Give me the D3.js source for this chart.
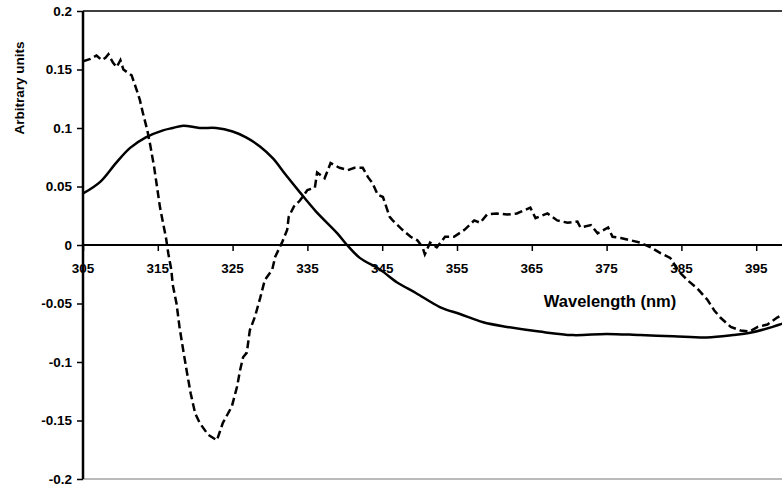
<!DOCTYPE html>
<html>

<head>
  <meta charset="UTF-8">
  <style>
    body { margin: 0; background: #fff; }
    svg { display: block; }
    text { font-family: "Liberation Sans", Arial, sans-serif; font-weight: bold; fill: #000; }
  </style>
</head>

<body>
  <svg></svg>
  <script src="https://d3js.org/d3.v7.min.js"></script>

  <script>

    let width = 782, height = 486;

    // wavelength ticks and value ticks
    const xTicks = [305, 315, 325, 335, 345, 355, 365, 375, 385, 395];
    const yTicks = [0.2, 0.15, 0.1, 0.05, 0, -0.05, -0.1, -0.15, -0.2];

    // dashed spectrum
    const wlDashed = [305, 306, 306.8, 307.5, 308, 308.4, 309, 309.5, 310, 310.4, 311.5, 312.2, 312.6, 313, 313.6, 314,
      314.5, 315.3, 315.7, 316.1, 316.4, 316.8, 317.0, 317.5, 317.9, 318.4, 318.9, 319.4, 320.0, 320.6, 321.7, 322.9,
      323.7, 324.9, 325.6, 326.0, 326.4, 326.9, 327.3, 328.0, 328.7, 329.3, 330.3, 330.7, 331.6, 332.3, 332.5, 333.2,
      334, 335, 336, 336.3, 337.3, 338.1, 339.3, 340.4, 341.3, 342.4, 343.1, 343.7, 344.4, 345.1, 346, 346.4, 347.7,
      348.8, 349.7, 350.4, 350.7, 351.4, 352.3, 353.4, 354.6, 356, 357.3, 358.1, 359, 360.3, 361.7, 363, 364.1, 364.8,
      365.5, 367.1, 368.4, 369.8, 371.1, 371.5, 372.9, 373.8, 375.2, 375.8, 376.9, 378.2, 379.5, 380.9, 382.2, 383.5,
      384.7, 385.8, 387.1, 388.5, 389.4, 390.2, 391.6, 392.9, 394.1, 395.2, 396.5, 397.8, 399, 400];
    const dashed = [0.157, 0.159, 0.162, 0.158, 0.16, 0.163, 0.156, 0.152, 0.158, 0.15, 0.145, 0.132, 0.124, 0.113, 0.098, 0.085,
      0.067, 0.032, 0.019, 0.006, -0.007, -0.021, -0.034, -0.05, -0.07, -0.09, -0.109, -0.127, -0.144, -0.152, -0.162, -0.167,
      -0.152, -0.138, -0.121, -0.107, -0.096, -0.092, -0.073, -0.061, -0.045, -0.03, -0.021, -0.01, 0.002, 0.013, 0.024, 0.033,
      0.038, 0.047, 0.049, 0.062, 0.057, 0.07, 0.066, 0.064, 0.066, 0.066, 0.058, 0.053, 0.043, 0.041, 0.024, 0.021, 0.013,
      0.007, 0.004, -0.002, -0.008, 0.002, -0.002, 0.007, 0.007, 0.013, 0.021, 0.019, 0.026, 0.027, 0.026, 0.027, 0.03, 0.032,
      0.023, 0.027, 0.021, 0.019, 0.02, 0.015, 0.017, 0.01, 0.015, 0.007, 0.006, 0.004, 0.002, -0.002, -0.007, -0.011,
      -0.023, -0.03, -0.037, -0.047, -0.056, -0.062, -0.07, -0.073, -0.074, -0.07, -0.068, -0.062, -0.058, -0.055];

    // solid spectrum
    const wlSolid = [305, 307.3, 309.4, 311.3, 313.4, 315.7, 317, 318.4, 320.6, 322.8, 325, 326.8, 328.7, 330.4, 332.1, 334,
      336.1, 339, 340.3, 342, 344.7, 347, 349.5, 352.7, 355.4, 358.5, 361.7, 366, 370.5, 375, 379.5, 383.9, 388.4, 391.9,
      394.2, 397.2, 398.6, 400];
    const solid = [0.044, 0.054, 0.07, 0.083, 0.092, 0.098, 0.1, 0.102, 0.1, 0.1, 0.097, 0.092, 0.084, 0.074, 0.06, 0.045,
      0.029, 0.01, 0, -0.011, -0.021, -0.032, -0.041, -0.053, -0.059, -0.066, -0.07, -0.074, -0.077, -0.076, -0.077, -0.078,
      -0.079, -0.077, -0.075, -0.07, -0.067, -0.064];

    let svg = d3.select("svg")
      .attr("width", width)
      .attr("height", height);

    let x = d3.scaleLinear().domain([305, 400]).range([83, 793.6]);
    let y = d3.scaleLinear().domain([-0.2, 0.2]).range([479, 11]);

    svg.append("clipPath").attr("id", "plot")
      .append("rect").attr("x", 83).attr("y", 0).attr("width", width - 83).attr("height", height);

    // frame of plot area
    svg.append("line").attr("x1", 83).attr("x2", width).attr("y1", y(0.2)).attr("y2", y(0.2))
      .attr("stroke", "#000").attr("stroke-width", 1.5);
    svg.append("line").attr("x1", 83).attr("x2", width).attr("y1", y(-0.2)).attr("y2", y(-0.2))
      .attr("stroke", "#777").attr("stroke-width", 1);

    // x tick labels under the zero line
    svg.append("g").selectAll("text")
      .data(xTicks)
      .enter()
      .append("text")
      .attr("x", d => x(d))
      .attr("y", y(0) + 28)
      .attr("text-anchor", "middle")
      .style("font-size", "13.5px")
      .text(d => d);

    // x axis along zero
    let xAxis = d3.axisBottom(x).tickValues(xTicks).tickSize(6).tickFormat("");
    let gx = svg.append("g").attr("transform", "translate(0," + y(0) + ")").call(xAxis);
    gx.select(".domain").attr("stroke-width", 2).attr("d", "M83,0H" + width);
    gx.selectAll(".tick line").attr("stroke-width", 1.5);

    // y axis
    let yAxis = d3.axisLeft(y).tickValues(yTicks).tickSize(6).tickPadding(5)
      .tickFormat(d => String(+d.toFixed(2)));
    let gy = svg.append("g").attr("transform", "translate(83,0)").call(yAxis);
    gy.select(".domain").attr("stroke-width", 2.5).attr("d", "M0," + y(0.2) + "V" + y(-0.2));
    gy.selectAll(".tick line").attr("stroke-width", 1.5);
    gy.selectAll(".tick text")
      .attr("fill", "#000")
      .style("font-family", "'Liberation Sans', Arial, sans-serif")
      .style("font-weight", "bold")
      .style("font-size", "13.5px");

    // titles
    svg.append("text")
      .attr("transform", "translate(24,88) rotate(-90)")
      .attr("text-anchor", "middle")
      .style("font-size", "13.5px")
      .text("Arbitrary units");

    svg.append("text")
      .attr("x", 610)
      .attr("y", 307)
      .attr("text-anchor", "middle")
      .style("font-size", "16.5px")
      .text("Wavelength (nm)");

    // curves
    let line = d3.line().x(d => x(d[0])).y(d => y(d[1]));
    let smoothLine = d3.line().curve(d3.curveCatmullRom).x(d => x(d[0])).y(d => y(d[1]));

    let curves = svg.append("g").attr("clip-path", "url(#plot)");

    curves.append("path")
      .datum(wlSolid.map((w, i) => [w, solid[i]]))
      .attr("d", smoothLine)
      .attr("fill", "none")
      .attr("stroke", "#000")
      .attr("stroke-width", 2.5);

    curves.append("path")
      .datum(wlDashed.map((w, i) => [w, dashed[i]]))
      .attr("d", line)
      .attr("fill", "none")
      .attr("stroke", "#000")
      .attr("stroke-width", 2.5)
      .attr("stroke-dasharray", "8,4");

  </script>

</body>

</html>
